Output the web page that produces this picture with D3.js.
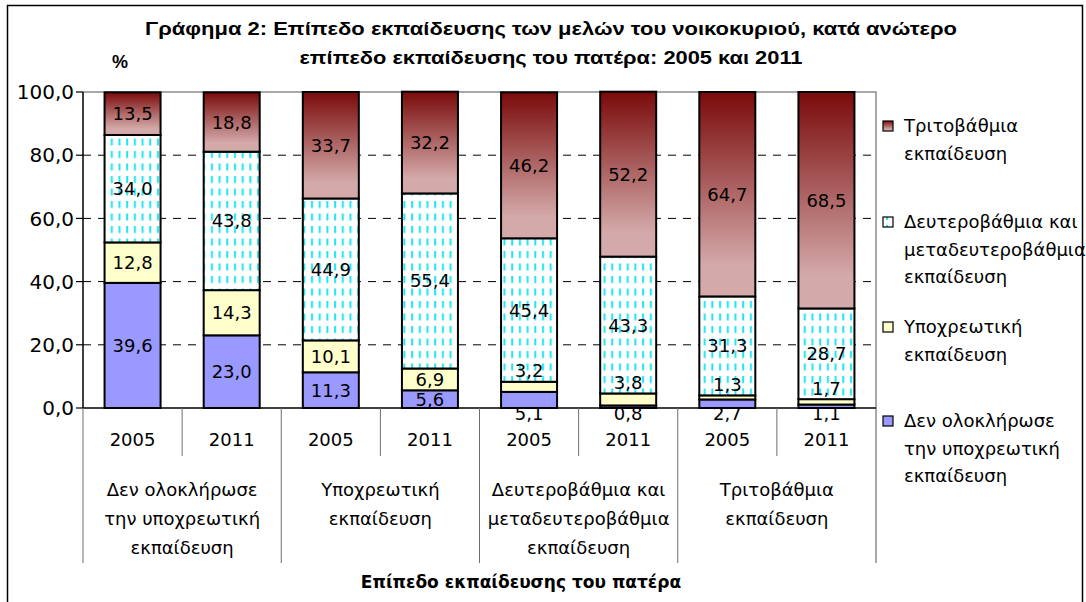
<!DOCTYPE html>
<html><head><meta charset="utf-8">
<script src="https://cdn.jsdelivr.net/npm/d3@7"></script>
<style>body{margin:0;background:#fff}svg{display:block}</style>
</head><body>
<script>
// ---------- DATA ----------
const groups = [
  ["Δεν ολοκλήρωσε", "την υποχρεωτική", "εκπαίδευση"],
  ["Υποχρεωτική", "εκπαίδευση"],
  ["Δευτεροβάθμια και", "μεταδευτεροβάθμια", "εκπαίδευση"],
  ["Τριτοβάθμια", "εκπαίδευση"]
];
const years = ["2005", "2011"];
const seriesNames = ["Δεν ολοκλήρωσε την υποχρεωτική εκπαίδευση", "Υποχρεωτική εκπαίδευση", "Δευτεροβάθμια και μεταδευτεροβάθμια εκπαίδευση", "Τριτοβάθμια εκπαίδευση"];
// bar order: group1 2005, group1 2011, group2 2005, ...
const notCompleted = [39.6, 23.0, 11.3, 5.6, 5.1, 0.8, 2.7, 1.1];
const compulsory   = [12.8, 14.3, 10.1, 6.9, 3.2, 3.8, 1.3, 1.7];
const secondary    = [34.0, 43.8, 44.9, 55.4, 45.4, 43.3, 31.3, 28.7];
const tertiary     = [13.5, 18.8, 33.7, 32.2, 46.2, 52.2, 64.7, 68.5];
const yTicks = [0, 20, 40, 60, 80, 100];
const legendLines = [
  ["Τριτοβάθμια", "εκπαίδευση"],
  ["Δευτεροβάθμια και", "μεταδευτεροβάθμια", "εκπαίδευση"],
  ["Υποχρεωτική", "εκπαίδευση"],
  ["Δεν ολοκλήρωσε", "την υποχρεωτική", "εκπαίδευση"]
];
const titleLines = ["Γράφημα 2: Επίπεδο εκπαίδευσης των μελών του νοικοκυριού, κατά ανώτερο", "επίπεδο εκπαίδευσης του πατέρα: 2005 και 2011"];
const xTitle = "Επίπεδο εκπαίδευσης του πατέρα";
const yUnit = "%";

// ---------- SETUP ----------
const W = 1086, H = 602;
const svg = d3.select("body").append("svg").attr("width", W).attr("height", H);
const FONT = "'DejaVu Sans', sans-serif";
const defs = svg.append("defs");
const grad = defs.append("linearGradient").attr("id", "gTert").attr("x1", 0).attr("y1", 0).attr("x2", 0).attr("y2", 1);
grad.append("stop").attr("offset", "0%").attr("stop-color", "#7a0a0a");
grad.append("stop").attr("offset", "85%").attr("stop-color", "#d4a9a9");
grad.append("stop").attr("offset", "100%").attr("stop-color", "#d4a9a9");
const pat = defs.append("pattern").attr("id", "pSec").attr("patternUnits", "userSpaceOnUse")
  .attr("width", 7.7).attr("height", 12.5);
pat.append("rect").attr("width", 7.7).attr("height", 12.5).attr("fill", "#fff");
pat.append("rect").attr("x", 3).attr("y", 1).attr("width", 2).attr("height", 7).attr("fill", "#1ee6f2");
const lpat = defs.append("pattern").attr("id", "pSecL").attr("patternUnits", "userSpaceOnUse")
  .attr("width", 10).attr("height", 10);
lpat.append("rect").attr("width", 10).attr("height", 10).attr("fill", "#fff");
lpat.append("rect").attr("x", 6).attr("y", 5).attr("width", 2).attr("height", 5).attr("fill", "#1ee6f2");

const fills = ["#9999ff", "#ffffcc", "url(#pSec)", "url(#gTert)"];
const legendFills = ["url(#gTert)", "url(#pSecL)", "#ffffcc", "#9999ff"];

// frame
svg.append("rect").attr("x", 7.5).attr("y", 5.5).attr("width", 1075).attr("height", 640)
  .attr("fill", "none").attr("stroke", "#000").attr("stroke-width", 1.5);

const x0 = 83, x1 = 876, yTop = 92, yBot = 408;
const barIdx = d3.range(notCompleted.length);
const x = d3.scaleBand().domain(barIdx).range([x0, x1]).paddingInner(0.435).paddingOuter(0.2175);
const y = d3.scaleLinear().domain([0, 100]).range([yBot, yTop]);

// gridlines
svg.append("g").selectAll("line").data(yTicks.filter(t => t > 0 && t < 100)).join("line")
  .attr("x1", x0).attr("x2", x1).attr("y1", d => y(d)).attr("y2", d => y(d))
  .attr("stroke", "#000").attr("stroke-width", 1).attr("stroke-dasharray", "8,7");
// plot area top & right border
svg.append("path").attr("d", `M${x0},${y(100)}H${x1}V563`).attr("fill", "none").attr("stroke", "#8c8c8c").attr("stroke-width", 1.5);

// stacks
const rows = barIdx.map(i => ({ i, v: [notCompleted[i], compulsory[i], secondary[i], tertiary[i]] }));
const stack = d3.stack().keys([0, 1, 2, 3]).value((d, k) => d.v[k]);
const layers = stack(rows);
const gBars = svg.append("g");
layers.forEach((layer, k) => {
  gBars.selectAll(null).data(layer).join("rect")
    .attr("x", d => x(d.data.i)).attr("width", x.bandwidth())
    .attr("y", d => y(d[1])).attr("height", d => y(d[0]) - y(d[1]))
    .attr("fill", fills[k]).attr("stroke", "#000").attr("stroke-width", 2);
});

// value labels
const fmt = v => d3.format(".1f")(v).replace(".", ",");
const gLab = svg.append("g").attr("font-family", FONT).attr("font-size", 18).attr("fill", "#000").attr("text-anchor", "middle");
layers.forEach((layer, k) => {
  gLab.selectAll(null).data(layer).join("text")
    .attr("x", d => x(d.data.i) + x.bandwidth() / 2)
    .attr("y", d => {
      const v = d[1] - d[0];
      if (k === 0 && v < 5.5) return yBot + 6;
      if (k === 1 && v < 5) return y(d[1]) - 11;
      return (y(d[0]) + y(d[1])) / 2;
    })
    .attr("dy", "0.36em")
    .text(d => fmt(d[1] - d[0]));
});

// y axis
svg.append("line").attr("x1", x0).attr("x2", x0).attr("y1", yTop).attr("y2", yBot).attr("stroke", "#000").attr("stroke-width", 1.5);
svg.append("g").selectAll("line").data(yTicks).join("line")
  .attr("x1", x0 - 7).attr("x2", x0).attr("y1", d => y(d)).attr("y2", d => y(d)).attr("stroke", "#000").attr("stroke-width", 1.2);
svg.append("g").attr("font-family", FONT).attr("font-size", 20).attr("text-anchor", "end")
  .selectAll("text").data(yTicks).join("text")
  .attr("x", x0 - 9).attr("y", d => y(d)).attr("dy", "0.36em").text(d => fmt(d));

// x axis
svg.append("line").attr("x1", x0).attr("x2", x1).attr("y1", yBot).attr("y2", yBot).attr("stroke", "#000").attr("stroke-width", 1.5);
const step = x.step();
// year separators
svg.append("g").selectAll("line").data(barIdx.filter(i => i % 2 === 1)).join("line")
  .attr("x1", i => x0 + i * step).attr("x2", i => x0 + i * step).attr("y1", yBot).attr("y2", 456)
  .attr("stroke", "#6e6e6e").attr("stroke-width", 1);
// group separators
svg.append("g").selectAll("line").data(d3.range(groups.length)).join("line")
  .attr("x1", g => x0 + g * 2 * step).attr("x2", g => x0 + g * 2 * step).attr("y1", yBot).attr("y2", 563)
  .attr("stroke", "#6e6e6e").attr("stroke-width", 1);
// year labels
svg.append("g").attr("font-family", FONT).attr("font-size", 18).attr("text-anchor", "middle")
  .selectAll("text").data(barIdx).join("text")
  .attr("x", i => x(i) + x.bandwidth() / 2).attr("y", 440).attr("dy", "0.36em").text(i => years[i % 2]);
// group labels
const gG = svg.append("g").attr("font-family", FONT).attr("font-size", 18).attr("text-anchor", "middle");
groups.forEach((lines, g) => {
  lines.forEach((t, j) => {
    gG.append("text").attr("x", x0 + (g * 2 + 1) * step).attr("y", 490 + j * 29).attr("dy", "0.36em").text(t);
  });
});
// x title
svg.append("text").attr("x", 521).attr("y", 582).attr("dy", "0.36em").attr("text-anchor", "middle")
  .attr("font-family", FONT).attr("font-weight", "bold").attr("font-size", 17).text(xTitle);

// chart title
const tg = svg.append("g").attr("font-family", "'Liberation Sans Narrow', 'Liberation Sans', Arial, sans-serif")
  .attr("font-weight", "bold").attr("font-size", 19).attr("text-anchor", "middle");
tg.append("text").attr("x", 551).attr("y", 28).attr("dy", "0.36em").attr("textLength", 812).attr("lengthAdjust", "spacingAndGlyphs").text(titleLines[0]);
tg.append("text").attr("x", 551).attr("y", 57).attr("dy", "0.36em").attr("textLength", 503).attr("lengthAdjust", "spacingAndGlyphs").text(titleLines[1]);
svg.append("text").attr("x", 120).attr("y", 62).attr("dy", "0.36em").attr("text-anchor", "middle")
  .attr("font-family", "'Liberation Sans', Arial, sans-serif").attr("font-weight", "bold").attr("font-size", 18).text(yUnit);

// legend
const legTop = [126, 222, 327, 421];
const gL = svg.append("g").attr("font-family", FONT).attr("font-size", 18);
legendLines.forEach((lines, k) => {
  gL.append("rect").attr("x", 883).attr("y", legTop[k] - 5).attr("width", 10).attr("height", 10)
    .attr("fill", legendFills[k]).attr("stroke", "#000").attr("stroke-width", 1.2);
  lines.forEach((t, j) => {
    gL.append("text").attr("x", 904).attr("y", legTop[k] + j * 27.5).attr("dy", "0.36em").text(t);
  });
});
</script>
</body></html>
